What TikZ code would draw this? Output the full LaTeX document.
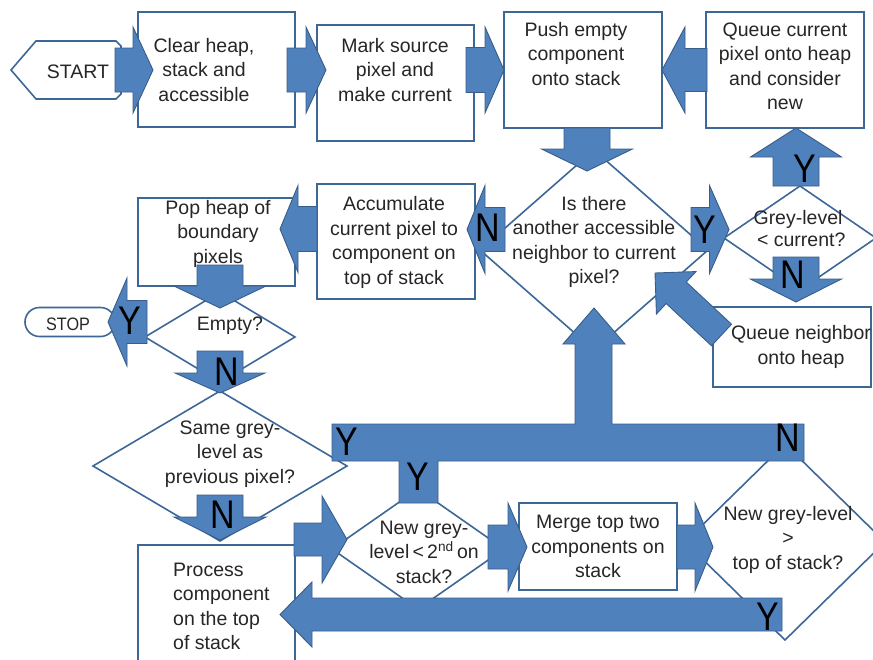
\documentclass[tikz,border=0pt]{standalone}
\usepackage{fontspec}
\setmainfont{Liberation Sans}
\usepackage{graphicx}
\usetikzlibrary{calc,shapes.geometric}

\definecolor{arrowblue}{RGB}{79,129,189}
\definecolor{arrowedge}{RGB}{56,93,138}
\definecolor{shapeline}{RGB}{60,103,150}
\definecolor{textgrey}{RGB}{38,38,38}

\tikzset{
  box/.style={rectangle, draw=shapeline, line width=1.6pt, fill=white, inner sep=0pt, outer sep=0pt},
  dia/.style={diamond, draw=shapeline, line width=1.6pt, fill=white, inner sep=0pt, outer sep=0pt},
  blockarrow/.style={fill=arrowblue, draw=arrowedge, line width=0.9pt, line join=miter},
  lbl/.style={font=\fontsize{19.5}{24.5}\selectfont, text=textgrey, align=center, inner sep=0pt,
    execute at begin node=\strut, execute at end node=\strut},
  yn/.style={font=\fontsize{40}{40}\selectfont, text=black, inner sep=0pt},
}

% block arrow: tail, tip, shaft half-width, head half-width, head length (pt)
\newcommand\blockarrow[5]{%
  \coordinate (ba-t) at #1;
  \coordinate (ba-p) at #2;
  \coordinate (ba-b) at ($(ba-p)!#5pt!(ba-t)$);
  \filldraw[blockarrow]
    ($(ba-t)!#3pt!90:(ba-p)$) -- ($(ba-b)!#3pt!90:(ba-p)$) --
    ($(ba-b)!#4pt!90:(ba-p)$) -- (ba-p) --
    ($(ba-b)!#4pt!-90:(ba-p)$) -- ($(ba-b)!#3pt!-90:(ba-p)$) --
    ($(ba-t)!#3pt!-90:(ba-p)$) -- cycle;}
\newcommand\ynmark[1]{\scalebox{0.85}[1]{#1}}

\begin{document}
\begin{tikzpicture}[x=1pt,y=-1pt]
\useasboundingbox (0,0) rectangle (873,659);
\clip (0,0) rectangle (873,659);

% terminals
\draw[draw=shapeline, line width=1.6pt, fill=white]
  (11,70) -- (36,41) -- (116,41) -- (121,46) -- (121,94) -- (116,99) -- (36,99) -- cycle;
\node[draw=shapeline, line width=1.6pt, fill=white, rounded corners=14.5pt,
      minimum width=90pt, minimum height=29pt, inner sep=0pt, outer sep=0pt] (stop) at (70,322) {};

% process boxes
\node[box, minimum width=157pt, minimum height=115pt] (clear)  at (216.5,69.5) {};
\node[box, minimum width=157pt, minimum height=116pt] (mark)   at (395.5,83) {};
\node[box, minimum width=158pt, minimum height=116pt] (push)   at (583,70) {};
\node[box, minimum width=158pt, minimum height=116pt] (queue)  at (785,70) {};
\node[box, minimum width=158pt, minimum height=115pt] (accum)  at (396,241.5) {};
\node[box, minimum width=157pt, minimum height=88pt]  (pop)    at (216.5,242) {};
\node[box, minimum width=158pt, minimum height=80pt]  (queueN) at (792,347) {};
\node[box, minimum width=158pt, minimum height=87pt]  (merge)  at (598,546.5) {};
\node[box, minimum width=157pt, minimum height=125pt] (process) at (216.5,607.5) {};

% decisions
\node[dia, minimum width=228pt, minimum height=200pt] (q1)    at (594,250) {};
\node[dia, minimum width=152pt, minimum height=104pt] (grey)  at (800,238) {};
\node[dia, minimum width=150pt, minimum height=90pt]  (empty) at (220,337) {};
\node[dia, minimum width=254pt, minimum height=150pt] (same)  at (220,466) {};
\node[dia, minimum width=172pt, minimum height=120pt] (ng2)   at (418,549) {};
\node[dia, minimum width=200pt, minimum height=196pt] (ngt)   at (785,542) {};

% flow arrows
\blockarrow{($(clear.west)+(-23,0.5)$)}{($(clear.west)+(15,0.5)$)}{22}{43}{20}
\blockarrow{($(clear.east)+(-8,0.5)$)}{($(mark.west)+(9,-13)$)}{22}{43}{20}
\blockarrow{($(mark.east)+(-8,-13)$)}{(push.west)}{22.5}{43}{19}
\blockarrow{($(queue.west)+(1,0)$)}{(push.east)}{21.5}{43}{23}
\blockarrow{($(push.south)+(4,0)$)}{($(q1.north)+(-7,21)$)}{23}{45.5}{22}
\blockarrow{($(q1.west)+(25,-20.5)$)}{($(accum.east)+(-8,-12)$)}{22}{44}{18}
\blockarrow{($(grey.west)+(-33,-8.5)$)}{($(grey.west)+(5,-8.5)$)}{22}{44}{19.5}
\blockarrow{($(grey.north)+(-4,0)$)}{($(queue.south)+(11,0)$)}{23}{45.5}{29}
\blockarrow{($(grey.south)+(-4,-33)$)}{($(queueN.north)+(4,-5)$)}{23}{45.5}{23}
\blockarrow{($(queueN.north west)+(8.5,28)$)}{($(q1.center)+(61,23)$)}{14.7}{29}{29}
\blockarrow{($(accum.west)+(0,-12.5)$)}{($(pop.east)+(-15,-13)$)}{22.5}{43.5}{18}
\blockarrow{($(pop.south)+(3.5,-21)$)}{($(empty.north)+(0,16)$)}{23}{46}{22}
\blockarrow{($(empty.west)+(2,-15)$)}{($(stop.east)+(-7,0)$)}{21.5}{44}{19}
\blockarrow{($(empty.south)+(0,-31)$)}{($(same.north)+(0,2)$)}{23}{45}{20}
\blockarrow{($(same.south)+(0,-46)$)}{($(process.north)+(3.5,-5)$)}{23}{46}{23}
\blockarrow{($(process.east |- ng2.west)+(-1,-9.5)$)}{($(ng2.west)+(15,-9.5)$)}{16.5}{43.5}{25}
\blockarrow{($(ng2.east)+(-16,-2)$)}{($(merge.west)+(8,0.5)$)}{22}{44}{19}
\blockarrow{($(merge.east)+(0,0.5)$)}{($(ngt.west)+(28,5)$)}{22}{44}{18}
\blockarrow{($(ngt.south)+(-3,-25.5)$)}{($(process.east)+(-15,7)$)}{16.5}{32.5}{32}

% merging bar back up to the neighbour test
\filldraw[blockarrow] (332,424) -- (575,424) -- (575,344) -- (563,344) -- (594,308)
  -- (625,344) -- (612,344) -- (612,424) -- (804,424) -- (804,461) -- (438,461)
  -- (438,503) -- (399,503) -- (399,461) -- (332,461) -- cycle;

% texts
\node[lbl] (start-t) at (78,73.5) {START};
\node[lbl, font=\fontsize{18}{22}\selectfont] (stop-t) at (68,326) {\scalebox{0.9}[1]{STOP}};
\node[lbl] (clear-t) at (204,73.5) {Clear heap,\\stack and\\accessible};
\node[lbl] (mark-t) at (395,73.5) {Mark source\\pixel and\\make current};
\node[lbl] (push-t) at (576,57.5) {Push empty\\component\\onto stack};
\node[lbl] (queue-t) at (785,70) {Queue current\\pixel onto heap\\and consider\\new};
\node[lbl] (accum-t) at (394,244) {Accumulate\\current pixel to\\component on\\top of stack};
\node[lbl] (pop-t) at (218,235.5) {Pop heap of\\boundary\\pixels};
\node[lbl] (q1-t) at (594,243.5) {Is there\\another accessible\\neighbor to current\\pixel?};
\node[lbl, font=\fontsize{19.5}{22}\selectfont] (grey-t) at (798,232) {Grey-level\\\,\,{<} current?};
\node[lbl] (queueN-t) at (801,348.5) {Queue neighbor\\onto heap};
\node[lbl] (empty-t) at (230,325.5) {Empty?};
\node[lbl] (same-t) at (230,455.5) {Same grey-\\level as\\previous pixel?};
\node[lbl, align=left, anchor=west] (process-t) at (173,610) {Process\\component\\on the top\\of stack};
\node[lbl] (ng2-t) at (424,555.5) {New grey-\\level\,{<}\,2\textsuperscript{nd}\,on\\stack?};
\node[lbl] (merge-t) at (598,550) {Merge top two\\components on\\stack};
\node[lbl] (ngt-t) at (788,541.5) {New grey-level\\{>}\\top of stack?};

% branch marks
\node[yn] (n-q1)    at (488,228) {\ynmark{N}};
\node[yn] (y-q1)    at (705,230) {\ynmark{Y}};
\node[yn] (y-grey)  at (805,169) {\ynmark{Y}};
\node[yn] (n-grey)  at (793,275) {\ynmark{N}};
\node[yn] (y-empty) at (130,321) {\ynmark{Y}};
\node[yn] (n-empty) at (227,372) {\ynmark{N}};
\node[yn] (n-same)  at (223,515) {\ynmark{N}};
\node[yn] (y-same)  at (347,442) {\ynmark{Y}};
\node[yn] (y-ng2)   at (418,477) {\ynmark{Y}};
\node[yn] (n-ngt)   at (788,438) {\ynmark{N}};
\node[yn] (y-ngt)   at (768,617) {\ynmark{Y}};
\end{tikzpicture}
\end{document}
